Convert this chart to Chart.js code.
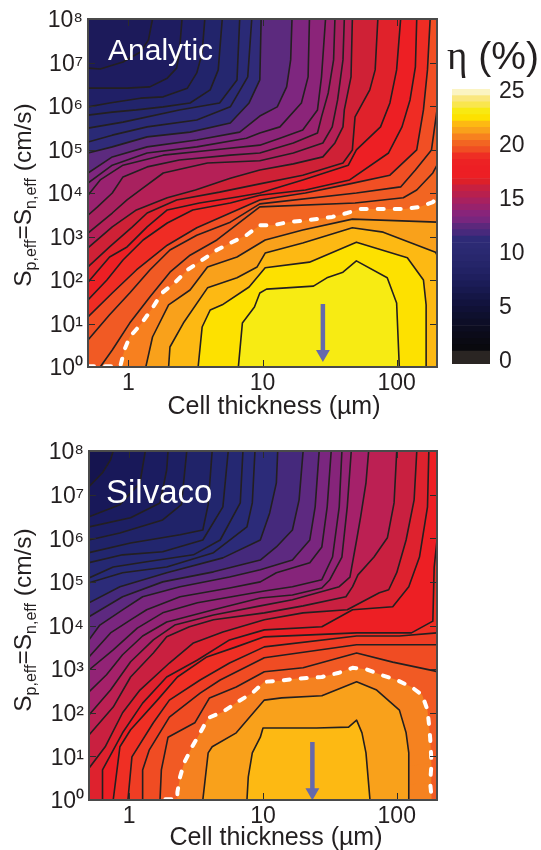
<!DOCTYPE html>
<html lang="en">
<head>
  <meta charset="UTF-8" />
  <title>Cell efficiency contours</title>
  <script src="https://cdn.jsdelivr.net/npm/chart.js@4.4.0/dist/chart.umd.min.js"></script>
  <style>
    html, body { margin: 0; padding: 0; background: #fff; }
    body { width: 541px; height: 850px; position: relative; overflow: hidden;
           font-family: "Liberation Sans", Arial, sans-serif; color: #231f20; }
    canvas { position: absolute; }
    .txt { position: absolute; white-space: nowrap; z-index: 2; }
    .ytitle { font-size: 24.5px; transform: translate(-50%, -50%) rotate(-90deg); }
    .ytitle sub { font-size: 16px; vertical-align: -5px; line-height: 0; }
    .xtitle { font-size: 25px; transform: translate(-50%, -50%); }
    .tag { color: #fff; transform: translateY(-50%); }
    #etaTitle { font-size: 39px; left: 447px; top: 33px; }
    #etaTitle i { font-family: "Liberation Serif", serif; font-style: normal; }
  </style>
</head>
<body>
  <canvas id="analyticChart" style="left:0;top:0"></canvas>
  <canvas id="silvacoChart" style="left:0;top:432px"></canvas>
  <canvas id="barChart" style="left:452px;top:70px"></canvas>

  <div class="txt ytitle" style="left:23px;top:195px">S<sub>p,eff</sub>=S<sub>n,eff</sub> (cm/s)</div>
  <div class="txt ytitle" style="left:23px;top:620px">S<sub>p,eff</sub>=S<sub>n,eff</sub> (cm/s)</div>
  <div class="txt xtitle" style="left:274px;top:405px">Cell thickness (µm)</div>
  <div class="txt xtitle" style="left:276px;top:836px">Cell thickness (µm)</div>
  <div class="txt tag" style="left:108px;top:50px;font-size:30px">Analytic</div>
  <div class="txt tag" style="left:106px;top:492px;font-size:33px">Silvaco</div>
  <div class="txt" id="etaTitle"><i>η</i> (%)</div>

  <script>
    // x ticks and y ticks
    const xTickValues = [1, 10, 100];
    const yTickValues = [1, 10, 100, 1e3, 1e4, 1e5, 1e6, 1e7, 1e8];
    const yTickLabels = ['10⁰', '10¹', '10²', '10³', '10⁴', '10⁵', '10⁶', '10⁷', '10⁸'];

    // contours, as [log10 thickness, log10 S], outermost band first
    const analyticContours = [
      [[-.30,6.87],[-.21,6.85],[-.04,7.01],[.09,7.24],[.15,7.52],[.18,8]],
      [[-.30,6.41],[-.01,6.41],[.16,6.44],[.29,6.64],[.36,6.87],[.38,7.22],[.40,8]],
      [[-.30,5.98],[-.14,6.07],[.09,6.18],[.26,6.21],[.44,6.41],[.51,6.76],[.55,7.22],[.57,8]],
      [[-.30,5.79],[-.12,5.86],[.06,5.91],[.26,5.98],[.46,6.07],[.61,6.37],[.67,6.83],[.70,8]],
      [[-.30,5.49],[-.04,5.63],[.38,5.91],[.68,6.07],[.81,6.60],[.83,8]],
      [[-.30,5.17],[-.12,5.33],[.14,5.52],[.51,5.68],[.76,5.98],[.89,6.67],[.92,8]],
      [[-.30,4.92],[-.12,5.06],[.14,5.29],[.46,5.40],[.76,5.61],[.90,6.07],[.98,6.60],[.99,8]],
      [[-.30,4.46],[-.12,4.83],[.14,5.06],[.51,5.22],[.83,5.40],[.98,5.77],[1.11,5.98],[1.18,6.44],[1.21,7.06],[1.22,8]],
      [[-.30,4.23],[-.12,4.64],[.14,4.92],[.51,5.06],[.88,5.26],[.98,5.38],[1.13,5.52],[1.29,6.07],[1.34,6.67],[1.35,8]],
      [[-.30,3.95],[-.21,4.30],[-.04,4.64],[.26,4.87],[.63,4.99],[.98,5.10],[1.13,5.26],[1.30,5.45],[1.41,5.91],[1.44,6.67],[1.47,8]],
      [[-.30,3.49],[-.23,3.68],[-.12,4.00],[-.04,4.37],[.14,4.60],[.38,4.76],[.76,4.87],[.98,4.92],[1.23,5.15],[1.41,5.38],[1.44,5.75],[1.49,6.30],[1.53,7.06],[1.54,8]],
      [[-.30,3.08],[-.12,3.54],[-.01,3.84],[.09,4.07],[.26,4.46],[.59,4.69],[.98,4.74],[1.23,4.92],[1.45,5.15],[1.52,5.52],[1.56,6.14],[1.60,7.06],[1.61,8]],
      [[-.30,2.74],[-.12,3.22],[.06,3.61],[.29,3.89],[.50,4.07],[.76,4.34],[.98,4.53],[1.23,4.67],[1.45,4.83],[1.54,5.15],[1.60,5.52],[1.61,5.91],[1.66,6.67],[1.67,8]],
      [[-.30,2.30],[-.14,2.76],[.03,3.22],[.14,3.54],[.36,3.84],[.68,4.02],[.98,4.21],[1.30,4.41],[1.60,4.69],[1.67,4.99],[1.69,5.75],[1.80,6.37],[1.84,6.83],[1.86,8]],
      [[-.30,1.95],[-.14,2.53],[-.01,2.76],[.14,3.22],[.29,3.61],[.53,3.77],[.81,3.91],[.98,4.00],[1.30,4.30],[1.64,4.64],[1.70,4.99],[1.88,5.52],[1.95,6.07],[2.00,6.83],[2.03,8]],
      [[-.30,1.54],[-.16,2.00],[-.04,2.46],[.11,2.92],[.29,3.31],[.48,3.61],[.76,3.77],[.98,3.95],[1.32,4.07],[1.65,4.30],[1.94,4.92],[2.04,5.52],[2.10,6.14],[2.14,6.90],[2.15,8]],
      [[-.30,1.15],[-.12,1.70],[.06,2.23],[.29,2.80],[.51,3.20],[.76,3.54],[.98,3.84],[1.32,4.00],[1.65,4.21],[1.95,4.41],[2.15,4.99],[2.20,5.91],[2.23,6.83],[2.25,8]],
      [[-.30,.62],[-.14,1.20],[.01,1.70],[.16,2.23],[.31,2.69],[.51,3.03],[.76,3.33],[.98,3.75],[1.70,4.00],[2.03,4.14],[2.14,4.53],[2.26,4.99],[2.30,5.91]],
      [[-.21,0],[-.12,.39],[.01,1.01],[.16,1.61],[.31,2.18],[.46,2.57],[.66,2.92],[.98,3.68],[1.69,3.77],[2.05,3.89],[2.15,4.07],[2.27,4.46],[2.30,4.64]],
      [[-.30,.02],[-.06,.02],[-.03,.39],[.01,.69],[.10,1.01],[.18,1.36],[.25,1.70],[.35,1.95],[.44,2.23],[.56,2.48],[.66,2.69],[.76,2.85],[.88,3.03],[.98,3.26],[1.08,3.26],[1.19,3.33],[1.30,3.36],[1.52,3.45],[1.63,3.54],[1.73,3.63],[1.85,3.63],[2.06,3.63],[2.17,3.68],[2.27,3.79],[2.30,3.89]],
      [[.13,0],[.18,.69],[.30,1.43],[.46,1.77],[.59,2.30],[.81,2.53],[1.02,2.92],[1.30,3.15],[1.67,3.40],[2.30,3.33]],
      [[.30,0],[.31,.46],[.41,1.01],[.59,1.82],[.81,2.05],[.96,2.30],[1.02,2.62],[1.30,2.85],[1.67,3.20],[1.90,3.10],[2.29,2.64],[2.30,2.57]],
      [[.52,0],[.55,.92],[.61,1.31],[.70,1.43],[.90,1.84],[1.02,2.28],[1.35,2.41],[1.70,2.87],[2.08,2.51],[2.20,2.00],[2.22,1.43],[2.22,0]],
      [[.82,0],[.85,1.01],[.94,1.38],[.98,1.70],[1.03,1.79],[1.38,1.86],[1.48,2.05],[1.60,2.18],[1.70,2.44],[1.93,2.05],[2.00,1.47],[2.02,0]]
    ];
    const analyticColors = ['#1e1c60','#201f66','#22246b','#25276f','#2a2a76','#302b79','#5c2a7e','#7e267f','#8b2479','#9a2270','#a8215f','#b52057','#cf2136','#e0222b','#ed1f24','#ef2c24','#f14f24','#f15a24','#f26522','#f7801f','#f9a11b','#fdb913','#fde100','#f7eb13'];
    const analyticBase = '#1c1a5a';
    const analyticDashed = 19;
    const analyticArrow = [[28.2, 28], [28.2, 2]];

    const silvacoContours = [
      [[-.30,7.18],[-.20,7.50],[-.14,7.80],[-.12,8]],
      [[-.30,6.49],[-.07,6.77],[.08,7.27],[.12,8]],
      [[-.30,6.26],[.01,6.47],[.23,6.81],[.28,7.57],[.29,8]],
      [[-.30,5.96],[-.07,6.12],[.25,6.42],[.39,6.77],[.43,8]],
      [[-.30,5.67],[.01,5.89],[.38,6.08],[.55,6.19],[.59,6.77],[.62,8]],
      [[-.30,5.44],[-.05,5.62],[.25,5.69],[.55,5.96],[.70,6.72],[.74,8]],
      [[-.30,5.09],[-.12,5.34],[.13,5.46],[.48,5.62],[.68,5.96],[.83,6.81],[.85,8]],
      [[-.30,4.98],[-.05,5.21],[.28,5.34],[.63,5.67],[.88,6.26],[.92,6.81],[.94,8]],
      [[-.30,4.52],[-.07,4.89],[.28,5.21],[.70,5.55],[.98,5.96],[1.05,6.58],[1.10,7.27],[1.11,8]],
      [[-.30,4.20],[-.05,4.66],[.25,5.00],[.63,5.23],[.98,5.50],[1.10,5.80],[1.22,6.19],[1.27,6.88],[1.30,8]],
      [[-.30,3.67],[-.22,4.01],[-.05,4.36],[.10,4.66],[.38,4.89],[.75,5.11],[.98,5.28],[1.22,5.50],[1.35,5.96],[1.39,6.72],[1.42,8]],
      [[-.30,3.28],[-.14,3.83],[.01,4.13],[.13,4.36],[.38,4.66],[.75,4.86],[.98,5.00],[1.10,5.21],[1.35,5.44],[1.44,5.80],[1.48,6.72],[1.51,8]],
      [[-.30,2.98],[-.12,3.44],[.06,3.94],[.25,4.29],[.51,4.52],[1.01,4.79],[1.22,4.89],[1.44,5.05],[1.52,5.57],[1.57,6.72],[1.59,8]],
      [[-.30,2.48],[-.17,2.87],[-.05,3.33],[.10,3.76],[.28,4.08],[.63,4.36],[.98,4.63],[1.22,4.70],[1.44,4.86],[1.50,5.05],[1.59,5.57],[1.63,6.72],[1.66,8]],
      [[-.30,1.95],[-.14,2.52],[.01,3.17],[.18,3.67],[.34,4.01],[.63,4.24],[.98,4.45],[1.22,4.59],[1.57,4.89],[1.65,5.11],[1.70,5.96],[1.73,6.49],[1.77,7.27],[1.79,8]],
      [[-.30,1.49],[-.12,2.13],[.01,2.82],[.18,3.37],[.28,3.74],[.45,3.97],[.63,4.13],[1.01,4.29],[1.30,4.45],[1.62,4.66],[1.67,4.89],[1.71,5.16],[1.83,5.57],[1.93,6.01],[1.98,6.81],[2.00,8]],
      [[-.30,.73],[-.18,1.22],[-.05,2.00],[.08,2.52],[.30,3.14],[.48,3.60],[.70,3.85],[1.01,4.13],[1.30,4.29],[1.63,4.36],[1.87,4.75],[1.94,4.82],[2.00,5.21],[2.07,5.96],[2.13,6.88],[2.15,8]],
      [[-.20,0],[-.20,.69],[-.05,1.54],[.10,2.22],[.28,2.82],[.51,3.21],[.75,3.67],[1.01,3.90],[1.44,3.97],[1.67,4.36],[1.97,4.43],[2.09,4.89],[2.17,5.57],[2.23,6.72],[2.24,8]],
      [[-.12,0],[-.07,1.22],[.01,1.61],[.21,2.29],[.36,2.82],[.58,3.28],[.80,3.51],[1.01,3.74],[1.70,3.83],[2.11,3.83],[2.27,4.10],[2.28,5.34],[2.30,5.96]],
      [[-.01,0],[.02,.99],[.18,1.77],[.30,2.29],[.53,2.75],[.75,3.14],[1.01,3.51],[1.70,3.76],[2.02,3.76],[2.30,3.83]],
      [[.10,0],[.10,.69],[.15,1.15],[.30,1.90],[.53,2.45],[.68,2.75],[1.01,3.26],[1.70,3.56],[2.30,3.56]],
      [[.23,0],[.24,.69],[.29,1.44],[.49,1.77],[.60,2.34],[.80,2.59],[1.01,2.94],[1.30,3.03],[1.70,3.37],[1.97,3.16],[2.28,2.96],[2.30,2.94]],
      [[.27,.02],[.36,.02],[.36,.18],[.38,.53],[.41,.85],[.47,1.22],[.53,1.54],[.59,1.88],[.70,2.02],[.81,2.25],[.92,2.45],[1.01,2.71],[1.12,2.73],[1.24,2.78],[1.35,2.80],[1.44,2.82],[1.56,2.91],[1.67,3.03],[1.77,3.00],[1.88,2.87],[2.00,2.75],[2.11,2.59],[2.19,2.41],[2.23,2.06],[2.24,1.77],[2.25,1.42],[2.26,.85],[2.25,.39],[2.26,.07],[2.26,0]],
      [[.55,0],[.59,1.08],[.62,1.22],[.80,1.54],[1.01,2.29],[1.14,2.34],[1.44,2.39],[1.70,2.71],[1.85,2.52],[2.02,2.06],[2.07,1.54],[2.09,1.08],[2.09,0]],
      [[.88,0],[.89,.53],[.92,1.08],[.98,1.44],[1.00,1.65],[1.40,1.65],[1.64,1.67],[1.70,1.83],[1.74,1.54],[1.77,1.08],[1.80,0]]
    ];
    const silvacoColors = ['#181859','#1b1c60','#1d1f64','#202369','#22266e','#252872','#272a76','#2c2b79','#45297c','#5d2980','#7a267f','#86247a','#922376','#a5216a','#bc2053','#c92040','#de222e','#ed1f24','#ef2f24','#ef3d24','#f04c23','#f15a24','#f58220','#f9a11b','#fdb913'];
    const silvacoBase = '#15144f';
    const silvacoDashed = 22;
    const silvacoArrow = [[23.4, 21.4], [23.4, 1.5]];

    // colour bar bands, bottom to top
    const barEdges = [-0.4,0.8,1.39,1.99,2.58,3.17,3.76,4.36,4.95,5.54,6.13,6.73,7.32,7.91,8.50,9.10,9.69,10.28,10.87,11.47,12.06,12.65,13.24,13.84,14.43,15.02,15.61,16.21,16.80,17.39,17.98,18.58,19.17,19.76,20.35,20.95,21.54,22.13,22.73,23.32,23.91,24.5,25.1];
    const barColors = ['#2a2523','#09090e','#0a0a13','#0b0b19','#0c0d20','#0d0e27','#0e102e','#101136','#12133e','#151646','#18194f','#1b1c57','#1f1f5e','#222264','#252569','#28276d','#2a2971','#2c2a74','#2e2a77','#47297c','#5c287c','#78267e','#88247a','#98226c','#a8215f','#b8204e','#c72040','#dd2029','#ed1f24','#ed1f24','#ed2224','#ee2e24','#f04e23','#f26522','#f7811f','#f9a11b','#fdb913','#fde100','#f8e912','#f9e64e','#fae77f','#fbf4c3'];
    const barTicks = [0, 5, 10, 15, 20, 25];

    const ink = '#231f20';
    const axisFont = { family: '"Liberation Sans", Arial, sans-serif', size: 23 };
    const toValue = ([lx, ly]) => ({
      x: lx <= -0.29 ? 0.5 : lx >= 2.3 ? 200 : 10 ** lx,
      y: ly <= 0 ? 1 : 10 ** ly
    });

    // inward tick marks on all four sides, and the frame
    const frameTicks = {
      id: 'frameTicks',
      afterDatasetsDraw(chart) {
        const { ctx, chartArea: a, scales: { x, y } } = chart;
        const isMajor = v => Math.abs(Math.log10(v) - Math.round(Math.log10(v))) < 1e-6;
        ctx.save();
        ctx.strokeStyle = '#2b2b2b';
        ctx.lineWidth = 1;
        ctx.beginPath();
        x.ticks.forEach(t => {
          const p = Math.round(x.getPixelForValue(t.value)) + 0.5;
          const len = isMajor(t.value) ? 7 : 4;
          ctx.moveTo(p, a.bottom); ctx.lineTo(p, a.bottom - len);
          ctx.moveTo(p, a.top); ctx.lineTo(p, a.top + len);
        });
        y.ticks.forEach(t => {
          const p = Math.round(y.getPixelForValue(t.value)) + 0.5;
          const len = isMajor(t.value) ? 7 : 4;
          ctx.moveTo(a.left, p); ctx.lineTo(a.left + len, p);
          ctx.moveTo(a.right, p); ctx.lineTo(a.right - len, p);
        });
        ctx.stroke();
        ctx.strokeStyle = '#4a4a4a';
        ctx.lineWidth = 2;
        ctx.strokeRect(a.left, a.top, a.right - a.left, a.bottom - a.top);
        ctx.restore();
      }
    };

    function contourPanel(id, w, h, yWidth, xHeight, contours, colors, base, dashed, arrow) {
      const canvas = document.getElementById(id);
      canvas.width = w; canvas.height = h;
      const bands = contours.map((c, i) => {
        const pts = c.map(toValue);
        // a contour that leaves through the top edge closes along it
        if (c[c.length - 1][1] >= 8) pts.push({ x: 200, y: 1e8 });
        const isDashed = i === dashed;
        return {
          data: pts,
          showLine: true,
          pointRadius: 0,
          fill: 'start',
          backgroundColor: colors[i],
          borderColor: isDashed ? '#ffffff' : ink,
          borderWidth: isDashed ? 4 : 1.6,
          borderDash: isDashed ? [6, 11] : [],
          borderCapStyle: isDashed ? 'round' : 'butt',
          borderJoinStyle: 'round'
        };
      });
      const ground = {
        data: [{ x: 0.5, y: 1e8 }, { x: 200, y: 1e8 }],
        showLine: true, pointRadius: 0, fill: 'start',
        backgroundColor: base, borderWidth: 0
      };
      const arrowSet = {
        data: arrow.map(([x, y]) => ({ x, y })),
        showLine: true,
        borderColor: '#6569ad',
        borderWidth: 4.5,
        pointRadius: [0, 8],
        pointStyle: 'triangle',
        pointRotation: 180,
        pointBackgroundColor: '#6569ad',
        pointBorderWidth: 0,
        fill: false
      };
      // the first dataset is painted last
      const datasets = [arrowSet, ...bands.reverse(), ground];
      return new Chart(canvas, {
        type: 'scatter',
        data: { datasets },
        plugins: [frameTicks],
        options: {
          responsive: false,
          animation: false,
          layout: { padding: { top: 19, right: 8 } },
          plugins: { legend: { display: false }, tooltip: { enabled: false } },
          scales: {
            x: {
              type: 'logarithmic', min: 0.5, max: 200,
              grid: { display: false }, border: { display: false },
              afterFit: s => { s.height = xHeight; },
              ticks: {
                autoSkip: false, maxRotation: 0, padding: -5, color: ink, font: axisFont,
                callback: v => xTickValues.includes(v) ? String(v) : null
              }
            },
            y: {
              type: 'logarithmic', min: 1, max: 1e8,
              grid: { display: false }, border: { display: false },
              afterFit: s => { s.width = yWidth; },
              ticks: {
                autoSkip: false, padding: -3, labelOffset: 2, color: ink, font: axisFont,
                callback: v => {
                  const i = yTickValues.indexOf(v);
                  return i < 0 ? null : yTickLabels[i];
                }
              }
            }
          }
        }
      });
    }

    contourPanel('analyticChart', 445, 425, 88, 58, analyticContours, analyticColors, analyticBase, analyticDashed, analyticArrow);
    contourPanel('silvacoChart', 445, 418, 89, 50, silvacoContours, silvacoColors, silvacoBase, silvacoDashed, silvacoArrow);

    const barCanvas = document.getElementById('barChart');
    barCanvas.width = 89; barCanvas.height = 310;
    new Chart(barCanvas, {
      type: 'bar',
      data: {
        labels: ['η'],
        datasets: barColors.map((c, i) => ({
          data: [[barEdges[i], barEdges[i + 1]]],
          backgroundColor: c,
          borderWidth: 0,
          barPercentage: 1,
          categoryPercentage: 1,
          grouped: false
        }))
      },
      options: {
        responsive: false,
        animation: false,
        layout: { padding: { top: 19, bottom: 16 } },
        plugins: { legend: { display: false }, tooltip: { enabled: false } },
        scales: {
          x: { display: false },
          y: {
            position: 'right', min: -0.4, max: 25.1,
            grid: { display: false }, border: { display: false },
            afterFit: s => { s.width = 51; },
            ticks: {
              stepSize: 5, padding: 1, labelOffset: 2, color: ink, font: axisFont, includeBounds: false,
              callback: v => barTicks.includes(v) ? String(v) : null
            }
          }
        }
      }
    });
  </script>
</body>
</html>
